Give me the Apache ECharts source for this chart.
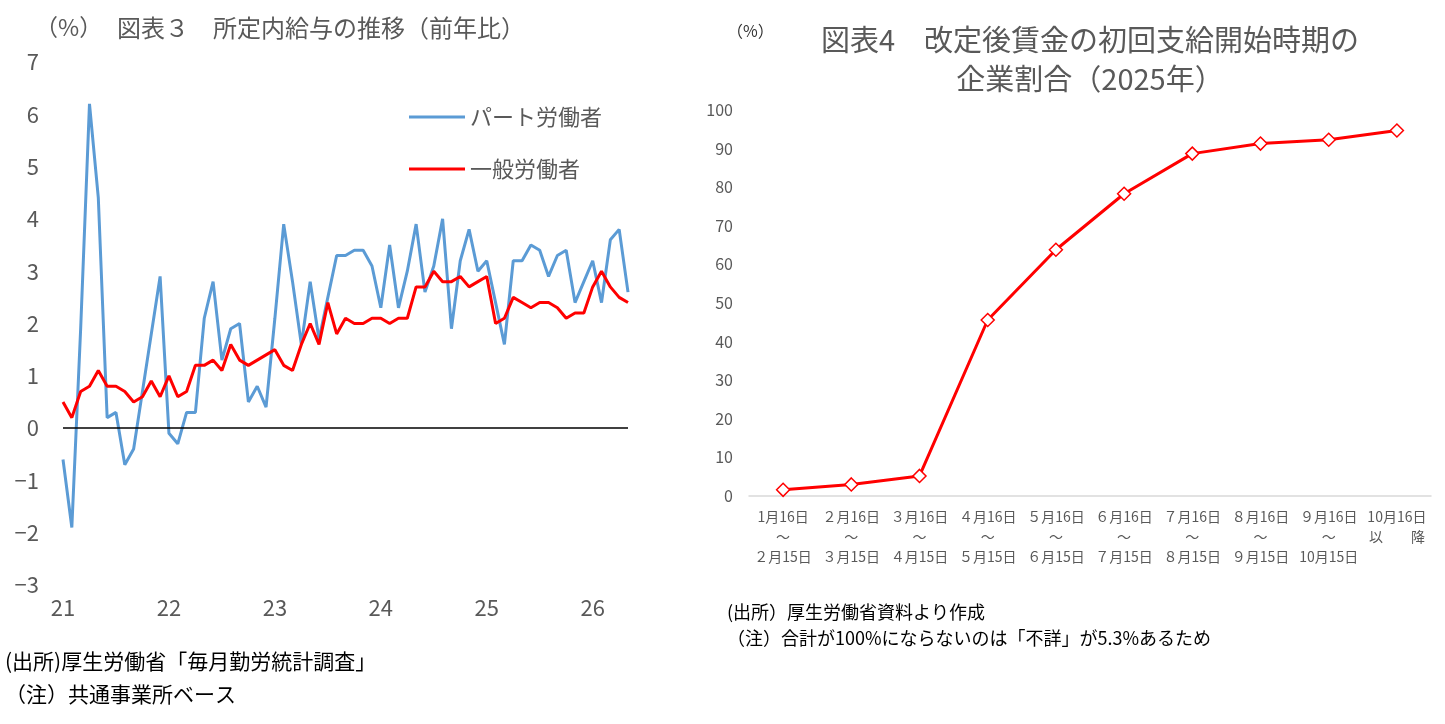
<!DOCTYPE html>
<html><head><meta charset="utf-8">
<script src="https://cdn.jsdelivr.net/npm/echarts@6/dist/echarts.min.js"></script>
<style>html,body{margin:0;padding:0;background:#fff}#c{width:1445px;height:724px}</style>
</head><body><div id="c"></div>
<script>
// ---- Left chart data (monthly, Jan 2021 - May 2026) ----
const years = ['21','22','23','24','25','26'];
const partTime = [
 -0.6,-1.9,1.9,6.2,4.4,0.2,0.3,-0.7,-0.4,0.7,1.8,2.9,
 -0.1,-0.3,0.3,0.3,2.1,2.8,1.3,1.9,2.0,0.5,0.8,0.4,
 2.1,3.9,2.8,1.6,2.8,1.7,2.5,3.3,3.3,3.4,3.4,3.1,
 2.3,3.5,2.3,3.0,3.9,2.6,3.1,4.0,1.9,3.2,3.8,3.0,
 3.2,2.4,1.6,3.2,3.2,3.5,3.4,2.9,3.3,3.4,2.4,2.8,
 3.2,2.4,3.6,3.8,2.6
];
const general = [
 0.5,0.2,0.7,0.8,1.1,0.8,0.8,0.7,0.5,0.6,0.9,0.6,
 1.0,0.6,0.7,1.2,1.2,1.3,1.1,1.6,1.3,1.2,1.3,1.4,
 1.5,1.2,1.1,1.6,2.0,1.6,2.4,1.8,2.1,2.0,2.0,2.1,
 2.1,2.0,2.1,2.1,2.7,2.7,3.0,2.8,2.8,2.9,2.7,2.8,
 2.9,2.0,2.1,2.5,2.4,2.3,2.4,2.4,2.3,2.1,2.2,2.2,
 2.7,3.0,2.7,2.5,2.4
];
const months = [];
for (const y of years) for (let m = 1; m <= 12; m++) months.push(y + '-' + m);
const monthCats = months.slice(0, partTime.length);

// ---- Right chart data ----
const periods = [
 '1月16日\n～\n２月15日','２月16日\n～\n３月15日','３月16日\n～\n４月15日',
 '４月16日\n～\n５月15日','５月16日\n～\n６月15日','６月16日\n～\n７月15日',
 '７月16日\n～\n８月15日','８月16日\n～\n９月15日','９月16日\n～\n10月15日',
 '10月16日\n以　　降'
];
const shares = [1.6, 3.0, 5.2, 45.6, 63.8, 78.3, 88.7, 91.3, 92.3, 94.7];

const jp = '"Noto Sans CJK JP", sans-serif';
const num = '"Noto Sans CJK JP", sans-serif';
const grey = '#595959';

const chart = echarts.init(document.getElementById('c'));
chart.setOption({
  animation: false,
  backgroundColor: '#fff',
  title: [
    {text: '（%）', left: 30, top: 11, textStyle: {fontFamily: jp, fontSize: 23, fontWeight: 'normal', color: grey}},
    {text: '図表３　所定内給与の推移（前年比）', left: 112, top: 11, textStyle: {fontFamily: jp, fontSize: 24, fontWeight: 'normal', color: grey}},
    {text: '(出所)厚生労働省「毎月勤労統計調査」', left: 0, top: 646, textStyle: {fontFamily: jp, fontSize: 21, fontWeight: 'normal', color: '#000'}},
    {text: '（注）共通事業所ベース', left: 0, top: 679, textStyle: {fontFamily: jp, fontSize: 21, fontWeight: 'normal', color: '#000'}},
    {text: '（%）', left: 722, top: 18, textStyle: {fontFamily: jp, fontSize: 16, fontWeight: 'normal', color: '#333'}},
    {text: '図表4　改定後賃金の初回支給開始時期の\n企業割合（2025年）', left: 1085, top: 15, textAlign: 'center',
     textStyle: {fontFamily: jp, fontSize: 29, fontWeight: 'normal', color: grey, lineHeight: 39, align: 'center'}},
    {text: '(出所）厚生労働省資料より作成', left: 722, top: 598, textStyle: {fontFamily: jp, fontSize: 18, fontWeight: 'normal', color: '#000'}},
    {text: '（注）合計が100%にならないのは「不詳」が5.3%あるため', left: 722, top: 624, textStyle: {fontFamily: jp, fontSize: 18, fontWeight: 'normal', color: '#000'}}
  ],
  legend: {
    left: 404, top: 101, orient: 'vertical', itemWidth: 56, itemHeight: 3, itemGap: 30,
    textStyle: {fontFamily: jp, fontSize: 22, color: grey},
    icon: 'rect',
    data: ['パート労働者', '一般労働者']
  },
  grid: [
    {left: 63, right: 817, top: 62, height: 523},
    {left: 749, right: 14, top: 110, height: 386}
  ],
  xAxis: [
    {type: 'category', gridIndex: 0, data: monthCats, boundaryGap: false,
     axisLine: {show: false}, axisTick: {show: false},
     axisLabel: {interval: (i) => i % 12 === 0, formatter: (v) => v.split('-')[0],
       fontFamily: num, fontSize: 22, color: grey, margin: 12}},
    {type: 'category', gridIndex: 1, data: periods, boundaryGap: true,
     axisLine: {lineStyle: {color: '#d9d9d9', width: 1.5}}, axisTick: {show: false},
     axisLabel: {interval: 0, fontFamily: jp, fontSize: 14, color: grey, lineHeight: 20, margin: 11}}
  ],
  yAxis: [
    {type: 'value', gridIndex: 0, min: -3, max: 7, interval: 1,
     axisLine: {show: false}, axisTick: {show: false}, splitLine: {show: false},
     axisLabel: {fontFamily: num, fontSize: 22, color: grey, margin: 24,
       formatter: (v) => String(v).replace('-', '−')}},
    {type: 'value', gridIndex: 1, min: 0, max: 100, interval: 10,
     axisLine: {show: false}, axisTick: {show: false}, splitLine: {show: false},
     axisLabel: {fontFamily: num, fontSize: 16, color: grey, margin: 16}}
  ],
  series: [
    {name: 'パート労働者', type: 'line', xAxisIndex: 0, yAxisIndex: 0, data: partTime,
     showSymbol: false, lineStyle: {color: '#5B9BD5', width: 3}, itemStyle: {color: '#5B9BD5'}, z: 3,
     markLine: {silent: true, symbol: 'none', label: {show: false},
       lineStyle: {color: '#000', width: 1.5, type: 'solid'}, data: [{yAxis: 0}]}},
    {name: '一般労働者', type: 'line', xAxisIndex: 0, yAxisIndex: 0, data: general,
     showSymbol: false, lineStyle: {color: '#FF0000', width: 3}, itemStyle: {color: '#FF0000'}, z: 4},
    {name: 'share', type: 'line', xAxisIndex: 1, yAxisIndex: 1, data: shares,
     symbol: 'diamond', symbolSize: 13, showSymbol: true,
     lineStyle: {color: '#FF0000', width: 3},
     itemStyle: {color: '#fff', borderColor: '#FF0000', borderWidth: 1.5}}
  ]
});
</script>
</body></html>
